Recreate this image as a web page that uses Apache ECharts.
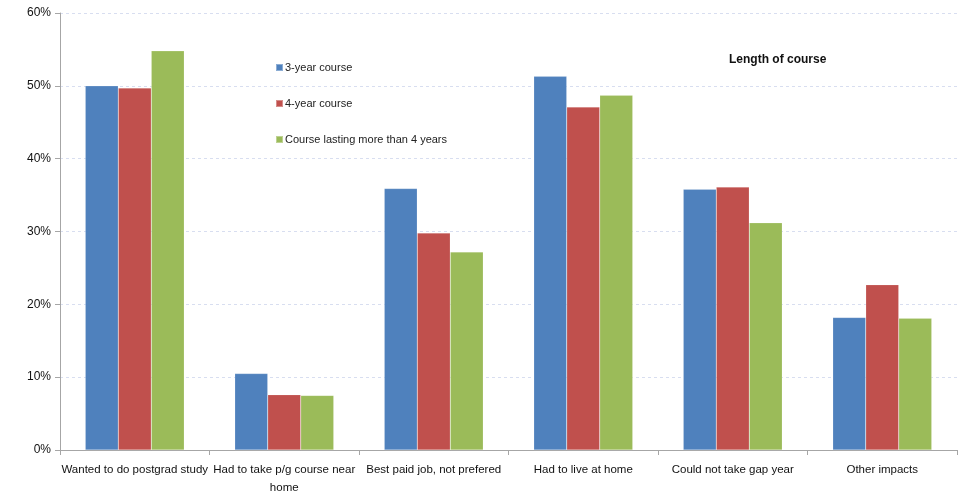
<!DOCTYPE html>
<html>
<head>
<meta charset="utf-8">
<script src="https://cdn.jsdelivr.net/npm/echarts@6/dist/echarts.min.js"></script>
<style>
  html, body { margin: 0; padding: 0; background: #fff; }
  #chart { width: 967px; height: 502px; }
</style>
</head>
<body>
<div id="chart"></div>
<script>
// Reasons affected, by length of course (% of respondents)
const categories = [
  'Wanted to do postgrad study',
  'Had to take p/g course near\nhome',
  'Best paid job, not prefered',
  'Had to live at home',
  'Could not take gap year',
  'Other impacts'
];
const threeYear = [50.0, 10.5, 35.9, 51.3, 35.8, 18.2];
const fourYear = [49.7, 7.6, 29.8, 47.1, 36.1, 22.7];
const moreThanFour = [54.8, 7.5, 27.2, 48.7, 31.2, 18.1];
const seriesNames = ['3-year course', '4-year course', 'Course lasting more than 4 years'];
const yTicks = [0, 10, 20, 30, 40, 50, 60];

const FONT = '"Liberation Sans", Arial, sans-serif';
const colors = ['#4F81BD', '#C0504D', '#9BBB59'];

const chart = echarts.init(document.getElementById('chart'));
chart.setOption({
  animation: false,
  textStyle: { fontFamily: FONT },
  title: {
    text: 'Length of course',
    left: 724,
    top: 49,
    textStyle: { fontFamily: FONT, fontSize: 12, fontWeight: 'bold', color: '#111' }
  },
  legend: {
    orient: 'vertical',
    left: 270,
    top: 57,
    itemWidth: 7,
    itemHeight: 7,
    itemGap: 25,
    icon: 'rect',
    data: seriesNames,
    textStyle: { fontFamily: FONT, fontSize: 11, color: '#222', padding: [0, 0, 0, -3] }
  },
  grid: { left: 60, right: 10, top: 13, bottom: 52, containLabel: false },
  xAxis: {
    type: 'category',
    data: categories,
    axisLine: { lineStyle: { color: '#a6a6a6', width: 1 } },
    axisTick: { show: true, alignWithLabel: false, length: 5, lineStyle: { color: '#a6a6a6' } },
    axisLabel: {
      interval: 0,
      margin: 11,
      fontFamily: FONT,
      fontSize: 11.5,
      color: '#111',
      lineHeight: 18
    }
  },
  yAxis: {
    type: 'value',
    min: 0,
    max: 60,
    interval: 10,
    axisLine: { show: true, lineStyle: { color: '#a6a6a6', width: 1 } },
    axisTick: { show: true, length: 5, lineStyle: { color: '#a6a6a6' } },
    axisLabel: {
      margin: 9,
      fontFamily: FONT,
      fontSize: 12,
      color: '#111',
      formatter: v => yTicks.includes(v) ? v + '%' : ''
    },
    splitLine: { show: true, lineStyle: { color: '#d8def0', type: [3, 3], width: 1 } }
  },
  series: [
    { name: seriesNames[0], type: 'bar', data: threeYear, barWidth: 33, barGap: '0%',
      itemStyle: { color: colors[0], borderColor: 'rgba(255,255,255,0.35)', borderWidth: 0.5 } },
    { name: seriesNames[1], type: 'bar', data: fourYear, barWidth: 33, barGap: '0%',
      itemStyle: { color: colors[1], borderColor: 'rgba(255,255,255,0.35)', borderWidth: 0.5 } },
    { name: seriesNames[2], type: 'bar', data: moreThanFour, barWidth: 33, barGap: '0%',
      itemStyle: { color: colors[2], borderColor: 'rgba(255,255,255,0.35)', borderWidth: 0.5 } }
  ]
});
</script>
</body>
</html>
